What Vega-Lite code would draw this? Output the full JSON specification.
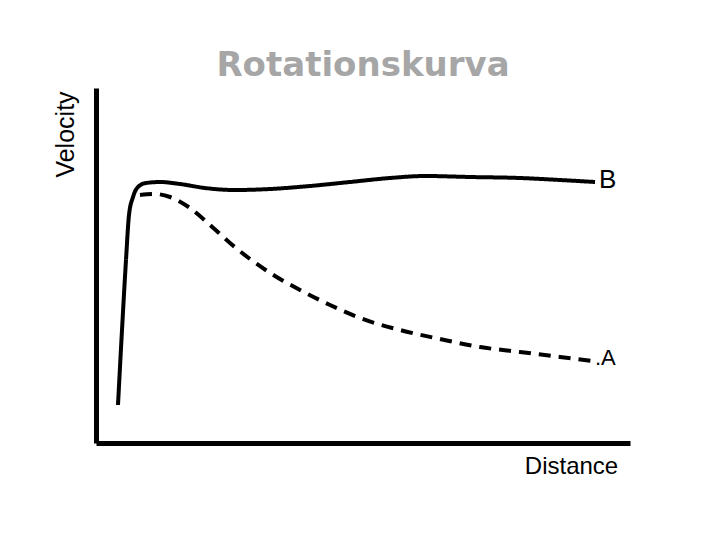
{
  "$schema": "https://vega.github.io/schema/vega-lite/v6.json",
  "width": 534,
  "height": 355,
  "autosize": "none",
  "padding": {"left": 96, "top": 88, "right": 90, "bottom": 97},
  "background": "white",
  "config": {"view": {"stroke": null}},
  "title": {
    "text": "Rotationskurva",
    "font": "DejaVu Sans",
    "fontWeight": "bold",
    "fontSize": 34,
    "color": "#a6a6a6",
    "anchor": "middle",
    "baseline": "alphabetic",
    "offset": 12,
    "dy": 34
  },
  "datasets": {
    "curves": [
      {"series": "B", "x": 22, "y": 38},
      {"series": "B", "x": 26, "y": 113},
      {"series": "B", "x": 30, "y": 183},
      {"series": "B", "x": 33, "y": 228},
      {"series": "B", "x": 37, "y": 246},
      {"series": "B", "x": 42, "y": 256},
      {"series": "B", "x": 50, "y": 260},
      {"series": "B", "x": 64, "y": 261},
      {"series": "B", "x": 84, "y": 259},
      {"series": "B", "x": 109, "y": 255},
      {"series": "B", "x": 139, "y": 253},
      {"series": "B", "x": 174, "y": 254},
      {"series": "B", "x": 214, "y": 257},
      {"series": "B", "x": 254, "y": 261},
      {"series": "B", "x": 294, "y": 265},
      {"series": "B", "x": 329, "y": 267},
      {"series": "B", "x": 374, "y": 266},
      {"series": "B", "x": 424, "y": 265},
      {"series": "B", "x": 464, "y": 263},
      {"series": "B", "x": 499, "y": 261},
      {"series": "A", "x": 44, "y": 248},
      {"series": "A", "x": 59, "y": 249},
      {"series": "A", "x": 74, "y": 246},
      {"series": "A", "x": 94, "y": 235},
      {"series": "A", "x": 114, "y": 218},
      {"series": "A", "x": 134, "y": 200},
      {"series": "A", "x": 154, "y": 184},
      {"series": "A", "x": 179, "y": 167},
      {"series": "A", "x": 204, "y": 153},
      {"series": "A", "x": 234, "y": 138},
      {"series": "A", "x": 264, "y": 125},
      {"series": "A", "x": 304, "y": 113},
      {"series": "A", "x": 344, "y": 104},
      {"series": "A", "x": 384, "y": 96},
      {"series": "A", "x": 424, "y": 91},
      {"series": "A", "x": 464, "y": 86},
      {"series": "A", "x": 496, "y": 82}
    ],
    "labels": [
      {"series": "B", "label": "B", "x": 499, "y": 261},
      {"series": "A", "label": ".A", "x": 496, "y": 82}
    ]
  },
  "layer": [
    {
      "data": {"name": "curves"},
      "mark": {"type": "line", "interpolate": "monotone", "strokeWidth": 4, "color": "black", "strokeCap": "butt"},
      "encoding": {
        "x": {
          "field": "x", "type": "quantitative",
          "scale": {"domain": [0, 534], "nice": false, "zero": false},
          "axis": {
            "title": "Distance", "titleFont": "Liberation Sans", "titleFontSize": 24, "titleFontWeight": "normal",
            "titleColor": "black", "titleAlign": "center", "titleBaseline": "alphabetic",
            "titleX": 475, "titleY": 30, "labels": false, "ticks": false, "grid": false,
            "domainColor": "black", "domainWidth": 5
          }
        },
        "y": {
          "field": "y", "type": "quantitative",
          "scale": {"domain": [0, 355], "nice": false, "zero": false},
          "axis": {
            "title": "Velocity", "titleFont": "Liberation Sans", "titleFontSize": 25, "titleFontWeight": "normal",
            "titleColor": "black", "titleAngle": -90, "titleAlign": "center", "titleBaseline": "alphabetic",
            "titleX": -23, "titleY": 46, "labels": false, "ticks": false, "grid": false,
            "domainColor": "black", "domainWidth": 5
          }
        },
        "detail": {"field": "series"},
        "strokeDash": {
          "field": "series", "type": "nominal",
          "scale": {"domain": ["A", "B"], "range": [[12, 8], [1, 0]]},
          "legend": null
        }
      }
    },
    {
      "data": {"name": "labels"},
      "transform": [{"filter": "datum.series === 'B'"}],
      "mark": {"type": "text", "font": "Liberation Sans", "fontSize": 26, "align": "left", "baseline": "alphabetic", "dx": 4, "dy": 6, "color": "black"},
      "encoding": {
        "x": {"field": "x", "type": "quantitative"},
        "y": {"field": "y", "type": "quantitative"},
        "text": {"field": "label"}
      }
    },
    {
      "data": {"name": "labels"},
      "transform": [{"filter": "datum.series === 'A'"}],
      "mark": {"type": "text", "font": "Liberation Sans", "fontSize": 22, "align": "left", "baseline": "alphabetic", "dx": 3, "dy": 4, "color": "black"},
      "encoding": {
        "x": {"field": "x", "type": "quantitative"},
        "y": {"field": "y", "type": "quantitative"},
        "text": {"field": "label"}
      }
    }
  ]
}
